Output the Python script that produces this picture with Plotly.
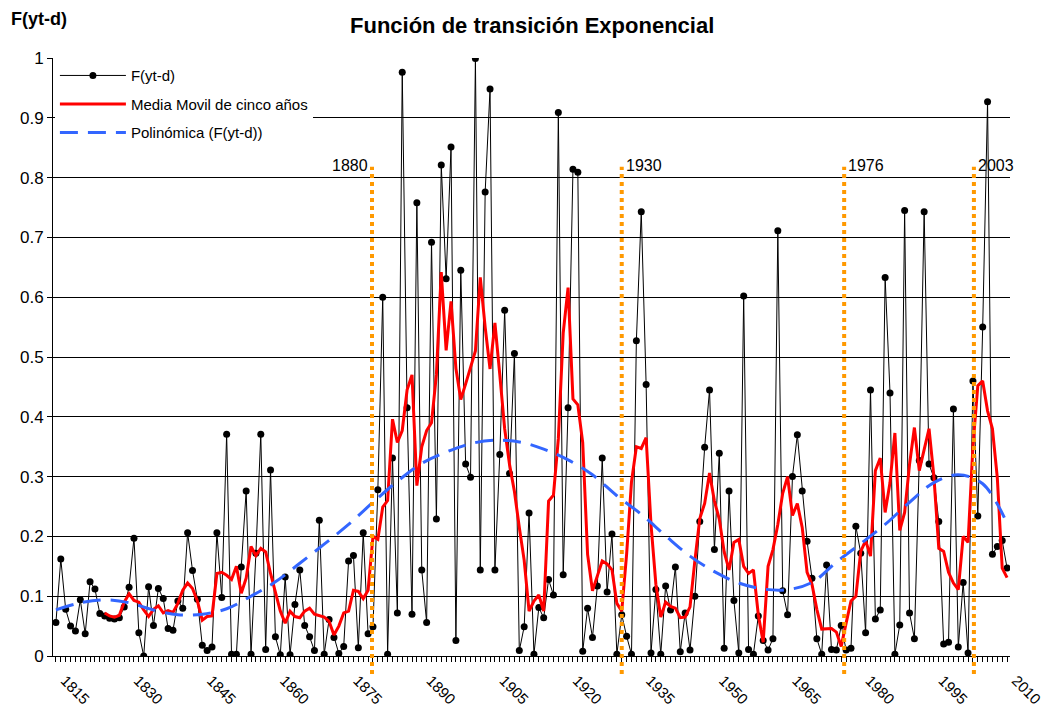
import plotly.graph_objects as go

# years of the series
years = list(range(1815, 2011))

# F(yt-d) values, one per year (1815..2010)
f_values = [
    0.056, 0.162, 0.078, 0.050, 0.042, 0.094, 0.037, 0.124, 0.112, 0.071,
    0.067, 0.063, 0.062, 0.064, 0.082, 0.115, 0.197, 0.039, 0.000, 0.116,
    0.051, 0.113, 0.096, 0.046, 0.043, 0.092, 0.080, 0.206, 0.143, 0.095,
    0.018, 0.009, 0.015, 0.206, 0.098, 0.371, 0.003, 0.003, 0.149, 0.276,
    0.003, 0.172, 0.371, 0.011, 0.311, 0.032, 0.002, 0.132, 0.002, 0.086,
    0.144, 0.051, 0.032, 0.009, 0.227, 0.003, 0.061, 0.031, 0.004, 0.016,
    0.159, 0.168, 0.014, 0.206, 0.037, 0.049, 0.278, 0.600, 0.003, 0.331,
    0.072, 0.976, 0.415, 0.070, 0.758, 0.144, 0.056, 0.692, 0.229, 0.821,
    0.631, 0.851, 0.026, 0.645, 0.321, 0.299, 0.999, 0.144, 0.776, 0.948,
    0.144, 0.337, 0.578, 0.305, 0.506, 0.009, 0.049, 0.239, 0.003, 0.081,
    0.064, 0.128, 0.102, 0.909, 0.136, 0.415, 0.814, 0.809, 0.008, 0.080,
    0.031, 0.117, 0.331, 0.107, 0.204, 0.003, 0.069, 0.033, 0.003, 0.527,
    0.743, 0.454, 0.005, 0.111, 0.003, 0.117, 0.077, 0.149, 0.007, 0.072,
    0.010, 0.100, 0.225, 0.349, 0.445, 0.178, 0.339, 0.013, 0.276, 0.093,
    0.005, 0.602, 0.011, 0.003, 0.067, 0.026, 0.010, 0.029, 0.711, 0.109,
    0.069, 0.300, 0.370, 0.276, 0.192, 0.130, 0.029, 0.003, 0.152, 0.011,
    0.010, 0.051, 0.010, 0.013, 0.217, 0.172, 0.039, 0.445, 0.062, 0.077,
    0.633, 0.440, 0.003, 0.052, 0.745, 0.072, 0.029, 0.327, 0.743, 0.321,
    0.298, 0.225, 0.020, 0.023, 0.413, 0.015, 0.123, 0.005, 0.460, 0.234,
    0.550, 0.927, 0.170, 0.183, 0.193, 0.147,
]

# five year moving average (1825..2010)
ma_years = list(range(1825, 2011))
ma_values = [
    0.072, 0.067, 0.065, 0.068, 0.090, 0.104, 0.093, 0.090, 0.077, 0.066,
    0.078, 0.084, 0.072, 0.076, 0.073, 0.088, 0.110, 0.122, 0.113, 0.092,
    0.060, 0.066, 0.067, 0.138, 0.140, 0.135, 0.128, 0.150, 0.105, 0.130,
    0.183, 0.168, 0.180, 0.174, 0.138, 0.108, 0.075, 0.055, 0.075, 0.066,
    0.064, 0.075, 0.080, 0.070, 0.068, 0.065, 0.058, 0.035, 0.050, 0.072,
    0.075, 0.110, 0.108, 0.096, 0.110, 0.200, 0.195, 0.249, 0.260, 0.396,
    0.357, 0.377, 0.445, 0.470, 0.285, 0.350, 0.377, 0.390, 0.470, 0.642,
    0.511, 0.593, 0.481, 0.429, 0.455, 0.481, 0.510, 0.633, 0.550, 0.480,
    0.557, 0.470, 0.380, 0.320, 0.275, 0.215, 0.160, 0.075, 0.092, 0.102,
    0.075, 0.259, 0.269, 0.363, 0.540, 0.616, 0.430, 0.420, 0.357, 0.170,
    0.109, 0.134, 0.159, 0.154, 0.144, 0.088, 0.075, 0.170, 0.291, 0.350,
    0.347, 0.365, 0.220, 0.120, 0.065, 0.090, 0.083, 0.080, 0.064, 0.065,
    0.082, 0.160, 0.230, 0.255, 0.306, 0.259, 0.229, 0.174, 0.144, 0.190,
    0.195, 0.150, 0.138, 0.144, 0.069, 0.023, 0.150, 0.178, 0.220, 0.272,
    0.300, 0.235, 0.255, 0.215, 0.140, 0.120, 0.078, 0.045, 0.045, 0.046,
    0.040, 0.016, 0.055, 0.092, 0.100, 0.175, 0.193, 0.167, 0.310, 0.331,
    0.240, 0.290, 0.373, 0.210, 0.240, 0.320, 0.382, 0.310, 0.345, 0.380,
    0.300, 0.180, 0.175, 0.140, 0.122, 0.111, 0.200, 0.190, 0.350, 0.452,
    0.460, 0.410, 0.380, 0.298, 0.147, 0.131,
]

# polynomial trend, sampled every five years off the chart
poly_years = list(range(1815, 2011, 5))
poly_values = [
    0.077, 0.089, 0.094, 0.089, 0.077, 0.069, 0.070, 0.079, 0.100, 0.124,
    0.155, 0.187, 0.220, 0.257, 0.292, 0.322, 0.341, 0.355, 0.361, 0.358,
    0.346, 0.328, 0.303, 0.268, 0.237, 0.201, 0.167, 0.141, 0.122, 0.112,
    0.111, 0.123, 0.157, 0.188, 0.220, 0.257, 0.290, 0.303, 0.288, 0.222,
]

# marked years (label, position on the axis)
mark_labels = ["1880", "1930", "1976", "2003"]
mark_pos = [1879.8, 1931.0, 1976.6, 2003.2]

FONT = "Arial, Liberation Sans, sans-serif"

fig = go.Figure()

fig.add_trace(go.Scatter(
    x=years, y=f_values, name="F(yt-d)", mode="lines+markers",
    legendgroup="a",
    line=dict(color="black", width=1),
    marker=dict(color="black", size=7)))

fig.add_trace(go.Scatter(
    x=ma_years, y=ma_values, name="Media Movil de cinco años", mode="lines",
    legendgroup="b",
    line=dict(color="#FF0000", width=3)))

fig.add_trace(go.Scatter(
    x=poly_years, y=poly_values, name="Polinómica (F(yt-d))", mode="lines",
    legendgroup="c",
    line=dict(color="#3366FF", width=3, dash="18px,10px", shape="spline")))

# orange dotted markers for the years of interest
for lab, pos in zip(mark_labels, mark_pos):
    fig.add_shape(type="line", xref="x", yref="paper",
                  x0=pos, x1=pos, y0=-0.03, y1=0.818,
                  line=dict(color="#FF9900", width=4, dash="dot"))
    fig.add_annotation(x=pos, y=0.82, xref="x", yref="y", text=lab,
                       showarrow=False,
                       xanchor="right" if lab == "1880" else "left",
                       xshift=-2 if lab == "1880" else 2,
                       font=dict(size=16, color="black", family=FONT))

# titles
fig.add_annotation(text="<b>Función de transición Exponencial</b>",
                   xref="paper", yref="paper", x=0.5, y=1.03,
                   xanchor="center", yanchor="bottom", showarrow=False,
                   font=dict(size=22, color="black", family=FONT))
fig.add_annotation(text="<b>F(yt-d)</b>", xref="paper", yref="paper",
                   x=-0.046, y=1.045, xanchor="left", yanchor="bottom",
                   showarrow=False,
                   font=dict(size=18, color="black", family=FONT))

fig.update_layout(
    width=1050, height=711,
    margin=dict(l=53, r=40, t=58, b=55),
    paper_bgcolor="white", plot_bgcolor="white",
    font=dict(family=FONT, color="black"),
    showlegend=True,
    legend=dict(x=0.002, y=0.998, xanchor="left", yanchor="top",
                bgcolor="white", font=dict(size=15, family=FONT),
                itemwidth=66, tracegroupgap=6),
)

fig.update_xaxes(
    range=[1814.4, 2010.6], tick0=1815, dtick=15,
    ticks="outside", ticklen=5, tickcolor="black",
    minor=dict(dtick=1, ticks="outside", ticklen=5, tickcolor="black"),
    tickangle=45, tickfont=dict(size=15, family=FONT),
    ticklabelshift=9, ticklabelstandoff=4, automargin=False,
    showgrid=False, showline=True, linecolor="black", linewidth=1,
    zeroline=False)

fig.update_yaxes(
    range=[0, 1], dtick=0.1, ticks="outside", ticklen=5, tickcolor="black",
    tickfont=dict(size=17, family=FONT), automargin=False,
    showgrid=True, gridcolor="black", gridwidth=1,
    showline=True, linecolor="black", linewidth=1, zeroline=False)

# drop the default page margin so the figure sits at the window's corner
fig.write_html("out.html", config={"displayModeBar": False},
               post_script="document.body.style.margin='0';")
